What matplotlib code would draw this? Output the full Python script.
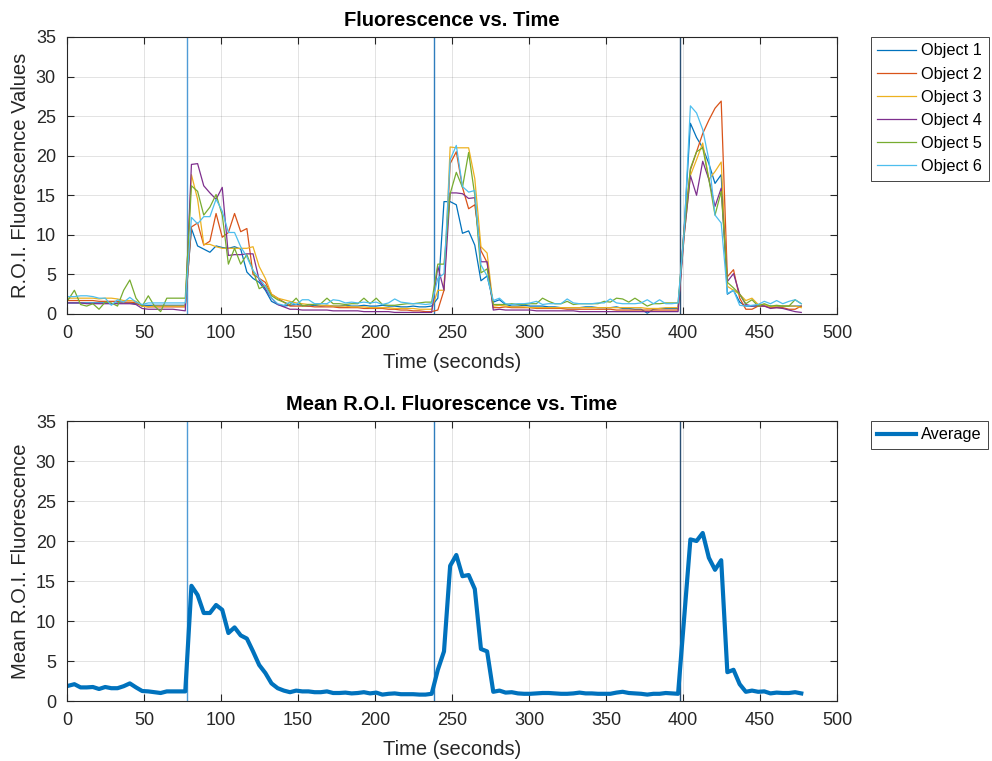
import numpy as np
import matplotlib
matplotlib.use('Agg')
import matplotlib.pyplot as plt

# Tiempo de adquisicion (un cuadro cada ~4 s)
n_frames = 120
time_s = 0.8 + 4.0 * np.arange(n_frames)

# Momentos de estimulo (lineas verticales)
stim_times = [78, 238, 398]
stim_colors = ['#4F9BD6', '#2F7DBD', '#2B4F73']

# Fluorescencia de cada objeto (R.O.I.)
obj1 = [1.4, 1.4, 1.4, 1.4, 1.4, 1.4, 1.4, 1.3, 1.4, 1.4, 1.4, 1.3, 1.1, 1.1, 1.1, 1.1, 1.1, 1.1, 1.1, 1.1,
        10.8, 8.6, 8.2, 7.8, 8.6, 8.4, 8.3, 8.5, 8.2, 5.3, 4.5, 4.0, 3.0, 1.6, 1.2, 1.0,
        1.1, 1.2, 1.1, 1.0, 1.1, 1.0, 1.1, 1.0, 1.0, 1.1, 1.0, 1.0, 1.1, 1.0, 1.0, 1.1, 1.0, 1.0, 0.9, 0.9, 1.0, 0.9, 0.9, 1.0,
        2.0, 14.2, 14.2, 13.8, 10.2, 10.5, 8.7, 4.2, 4.8, 1.5, 1.8,
        1.2, 1.0, 1.0, 1.1, 1.0, 1.0, 1.0, 0.9, 0.9, 0.8, 0.8, 0.8, 0.8, 0.9, 0.9, 0.8, 0.8, 0.8, 0.9, 0.7,
        0.7, 0.6, 0.6, 0.1, 0.6, 0.7, 0.7, 0.7, 0.7,
        11.0, 24.1, 22.3, 21.0, 19.0, 16.5, 17.6, 2.5, 3.0, 1.5, 1.0, 1.0,
        1.0, 1.0, 1.0, 0.9, 1.0, 1.0, 1.0, 1.0]
obj2 = [1.7, 1.7, 1.7, 1.7, 1.7, 1.6, 1.6, 1.6, 1.6, 1.5, 1.5, 1.4, 1.0, 0.9, 0.9, 0.9, 0.9, 0.9, 0.9, 0.9,
        11.0, 11.5, 8.7, 9.2, 12.7, 9.7, 10.3, 12.7, 10.4, 10.8, 5.0, 4.5, 4.0, 2.5, 2.0, 1.5,
        1.0, 1.0, 1.0, 1.0, 0.9, 0.9, 0.9, 0.9, 0.8, 0.8, 0.8, 0.8, 0.7, 0.7, 0.7, 0.7, 0.6, 0.6, 0.5, 0.5, 0.4, 0.4, 0.3, 0.3,
        0.5, 3.0, 19.0, 20.5, 16.0, 13.3, 13.8, 8.0, 6.5, 0.8, 0.8,
        0.9, 0.8, 0.8, 0.8, 0.8, 0.7, 0.7, 0.7, 0.7, 0.7, 0.6, 0.6, 0.6, 0.6, 0.6, 0.6, 0.6, 0.6, 0.5, 0.5,
        0.5, 0.5, 0.5, 0.5, 0.5, 0.5, 0.5, 0.5, 0.5,
        11.0, 18.2, 20.5, 22.8, 24.5, 26.0, 26.9, 4.7, 5.6, 2.0, 0.6, 0.6,
        1.0, 1.0, 0.8, 0.8, 0.8, 0.6, 0.6, 1.0]
obj3 = [2.0, 2.0, 2.0, 2.0, 2.0, 1.9, 2.0, 2.0, 1.9, 1.7, 1.7, 1.6, 1.0, 0.9, 1.0, 1.0, 1.0, 1.0, 1.0, 1.0,
        17.6, 14.5, 8.8, 8.8, 8.5, 8.3, 8.3, 8.3, 8.3, 8.3, 8.5, 6.0, 4.5, 2.5, 2.0, 1.8,
        1.6, 1.4, 1.3, 1.2, 1.2, 1.1, 1.1, 1.0, 1.0, 1.0, 0.9, 0.9, 0.9, 0.8, 0.8, 0.8, 0.8, 0.7, 0.7, 0.7, 0.7, 0.6, 0.6, 0.6,
        3.0, 3.0, 21.1, 21.0, 21.0, 21.0, 17.1, 8.5, 7.7, 1.0, 1.1,
        1.0, 0.9, 0.9, 0.9, 0.8, 0.8, 0.8, 0.8, 0.8, 0.8, 0.8, 0.8, 0.8, 0.8, 0.8, 0.8, 0.8, 0.8, 0.8, 0.8,
        0.8, 0.8, 0.8, 0.7, 0.7, 0.7, 0.8, 0.8, 0.8,
        10.0, 17.5, 19.5, 21.6, 17.0, 18.0, 19.2, 3.5, 3.0, 2.5, 1.7, 2.0,
        1.2, 1.2, 0.9, 1.0, 1.0, 1.0, 1.0, 0.8]
obj4 = [1.4, 1.4, 1.4, 1.3, 1.3, 1.3, 1.3, 1.3, 1.3, 1.3, 1.3, 1.2, 0.7, 0.6, 0.6, 0.6, 0.6, 0.6, 0.5, 0.4,
        18.9, 19.0, 16.2, 15.3, 14.5, 16.0, 7.4, 7.5, 7.5, 7.6, 7.6, 4.3, 3.2, 2.0, 1.2, 0.9,
        0.6, 0.6, 0.5, 0.5, 0.5, 0.5, 0.5, 0.4, 0.4, 0.4, 0.4, 0.4, 0.3, 0.3, 0.3, 0.3, 0.3, 0.2, 0.2, 0.2, 0.2, 0.2, 0.2, 0.2,
        6.0, 3.0, 15.3, 15.3, 15.2, 14.6, 14.7, 6.6, 6.6, 0.5, 0.6,
        0.5, 0.5, 0.5, 0.5, 0.5, 0.4, 0.4, 0.4, 0.4, 0.4, 0.4, 0.4, 0.3, 0.3, 0.3, 0.3, 0.3, 0.3, 0.3, 0.3,
        0.3, 0.3, 0.3, 0.3, 0.3, 0.3, 0.3, 0.3, 0.3,
        10.0, 17.5, 15.0, 19.3, 17.0, 13.6, 15.9, 4.1, 5.1, 2.5, 1.2, 1.0,
        1.1, 1.0, 0.7, 0.8, 0.7, 0.5, 0.3, 0.2]
obj5 = [1.8, 3.0, 1.2, 1.0, 1.3, 0.6, 1.5, 1.4, 1.0, 3.0, 4.3, 2.0, 1.0, 2.3, 1.0, 0.3, 2.0, 2.0, 2.0, 2.0,
        16.2, 15.5, 12.5, 13.5, 15.1, 12.5, 6.3, 8.3, 6.3, 7.5, 5.5, 3.2, 3.6, 2.3, 1.8, 1.5,
        1.2, 2.0, 1.0, 1.2, 1.2, 1.3, 2.0, 1.3, 1.3, 1.2, 1.3, 1.3, 2.0, 1.3, 2.0, 1.2, 1.1, 1.1, 1.2, 1.3, 1.3, 1.4, 1.5, 1.5,
        6.3, 6.3, 15.2, 17.9, 16.0, 20.4, 15.0, 5.2, 5.7, 1.2, 1.2,
        1.2, 1.3, 1.2, 1.2, 1.3, 1.3, 2.0, 1.6, 1.3, 1.3, 1.6, 1.2, 1.3, 1.3, 1.3, 1.3, 1.6, 1.5, 2.0, 1.9,
        1.5, 2.0, 1.5, 1.0, 1.3, 1.3, 1.4, 1.4, 1.4,
        10.5, 18.4, 20.5, 21.0, 17.0, 12.5, 15.5, 4.0, 3.3, 2.5, 1.3, 1.8,
        1.0, 1.3, 1.0, 1.1, 1.0, 1.0, 1.8, 1.3]
obj6 = [2.2, 2.2, 2.3, 2.3, 2.2, 2.0, 2.0, 1.1, 1.8, 1.5, 2.1, 1.5, 1.2, 1.4, 1.4, 1.4, 1.4, 1.4, 1.4, 1.4,
        12.2, 11.4, 12.3, 12.3, 14.5, 13.0, 10.3, 10.3, 8.5, 7.2, 5.5, 4.5, 3.5, 2.0, 1.3, 1.1,
        1.5, 1.2, 1.8, 1.8, 1.3, 1.3, 1.3, 1.8, 1.7, 1.4, 1.5, 1.4, 1.5, 1.4, 1.5, 1.2, 1.4, 1.9, 1.5, 1.4, 1.3, 1.3, 1.2, 1.3,
        4.5, 5.1, 19.5, 21.3, 16.1, 15.4, 15.6, 6.2, 4.8, 1.7, 2.0,
        1.3, 1.2, 1.3, 1.3, 1.4, 1.6, 1.2, 1.3, 1.3, 1.3, 1.9, 1.4, 1.3, 1.3, 1.3, 1.4, 1.4, 1.9, 1.4, 1.3,
        1.3, 1.3, 1.4, 1.8, 1.3, 1.8, 1.3, 1.3, 1.4,
        10.5, 26.3, 25.4, 23.3, 19.5, 12.5, 11.5, 2.6, 3.0, 1.1, 1.0, 1.1,
        1.2, 1.6, 1.3, 1.7, 1.3, 1.6, 1.8, 1.3]

# Promedio mostrado en el panel inferior
average = [1.9, 2.1, 1.7, 1.7, 1.75, 1.5, 1.75, 1.6, 1.6, 1.85, 2.2, 1.7, 1.25, 1.2, 1.1, 1.0, 1.2, 1.2, 1.2, 1.2,
           14.4, 13.25, 11.0, 11.0, 12.0, 11.4, 8.5, 9.2, 8.2, 7.8, 6.2, 4.5, 3.5, 2.2, 1.6, 1.3,
           1.1, 1.3, 1.2, 1.2, 1.1, 1.1, 1.2, 1.0, 1.0, 1.05, 0.95, 1.0, 1.1, 0.95, 1.05, 0.8, 0.9, 0.95, 0.85, 0.85,
           0.85, 0.8, 0.8,
           0.9, 3.9, 6.2, 16.9, 18.25, 15.6, 15.75, 14.0, 6.5, 6.2, 1.15, 1.3,
           1.05, 1.1, 0.95, 0.9, 0.9, 0.95, 1.0, 1.0, 0.95, 0.9, 0.9, 0.95, 1.05, 0.95, 0.95, 0.9, 0.9, 0.9, 1.05, 1.15,
           1.0, 0.95, 0.9, 0.8, 0.9, 0.9, 1.0, 0.95, 0.9,
           10.5, 20.2, 20.0, 21.0, 17.9, 16.4, 17.6, 3.6, 3.9, 2.1, 1.15, 1.3,
           1.15, 1.2, 0.95, 1.05, 1.0, 1.0, 1.1, 0.95]

objects = [obj1, obj2, obj3, obj4, obj5, obj6]
object_labels = ['Object 1', 'Object 2', 'Object 3', 'Object 4', 'Object 5', 'Object 6']
object_colors = ['#0072BD', '#D95319', '#EDB120', '#7E2F8E', '#77AC30', '#4DBEEE']

plt.rcParams['font.family'] = ['Liberation Sans', 'DejaVu Sans']
ink = '#262626'


def estilo_matlab(ax, ylabel, title):
    ax.set_xlim(0, 500)
    ax.set_ylim(0, 35)
    ax.set_xticks(np.arange(0, 501, 50))
    ax.set_yticks(np.arange(0, 36, 5))
    ax.grid(True, color=ink, alpha=0.15, linewidth=0.6)
    ax.set_axisbelow(True)
    ax.tick_params(direction='in', length=5, width=0.8, top=True, right=True,
                   labelsize=13, colors=ink, pad=8)
    for s in ax.spines.values():
        s.set_color(ink)
        s.set_linewidth(0.8)
    ax.set_xlabel('Time (seconds)', fontsize=14.5, color=ink, labelpad=8)
    ax.set_ylabel(ylabel, fontsize=14.5, color=ink, labelpad=4)
    ax.set_title(title, fontsize=14.5, fontweight='bold', color='black', pad=8)
    for t, c in zip(stim_times, stim_colors):
        ax.axvline(t, color=c, linewidth=1.0)


fig = plt.figure(figsize=(9.92, 7.61), dpi=100)
ax1 = fig.add_axes([67 / 992, 1 - 314 / 761, 770 / 992, 277 / 761])
ax2 = fig.add_axes([67 / 992, 1 - 701 / 761, 770 / 992, 280 / 761])

estilo_matlab(ax1, 'R.O.I. Fluorescence Values', 'Fluorescence vs. Time')
for vals, lab, col in zip(objects, object_labels, object_colors):
    ax1.plot(time_s, vals, color=col, linewidth=0.9, label=lab)
leg1 = ax1.legend(loc='upper left', bbox_to_anchor=(1.044, 1.0), borderaxespad=0,
                  fontsize=11.7, handlelength=2.4, handletextpad=0.3, labelspacing=0.5,
                  borderpad=0.4, fancybox=False, framealpha=1, edgecolor=ink)
leg1.get_frame().set_linewidth(0.6)

estilo_matlab(ax2, 'Mean R.O.I. Fluorescence', 'Mean R.O.I. Fluorescence vs. Time')
ax2.plot(time_s, average, color='#0072BD', linewidth=3, label='Average')
leg2 = ax2.legend(loc='upper left', bbox_to_anchor=(1.044, 1.0), borderaxespad=0,
                  fontsize=11.7, handlelength=2.4, handletextpad=0.3,
                  borderpad=0.4, fancybox=False, framealpha=1, edgecolor=ink)
leg2.get_frame().set_linewidth(0.6)

plt.savefig('out.png', dpi=100)
